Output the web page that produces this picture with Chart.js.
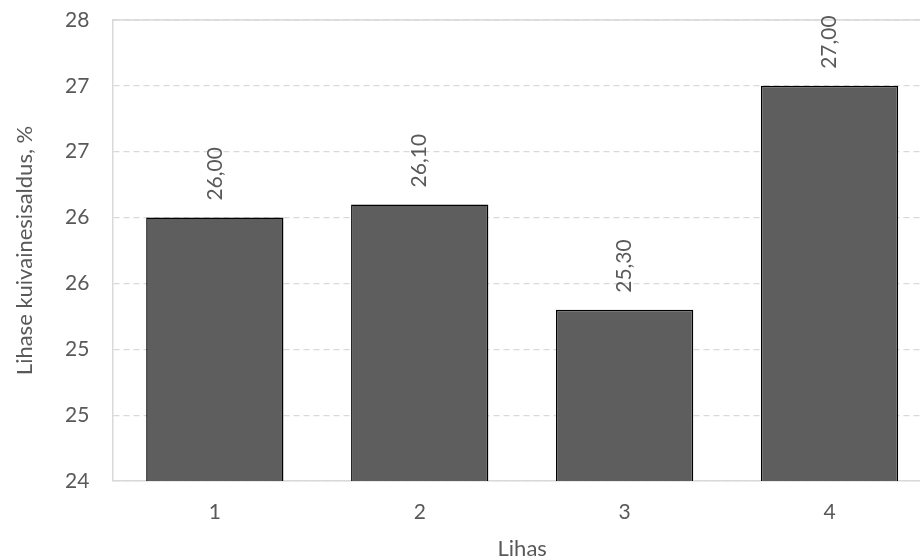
<!DOCTYPE html>
<html>
<head>
<meta charset="utf-8">
<script src="https://cdn.jsdelivr.net/npm/chart.js@4/dist/chart.umd.min.js"></script>
<style>
  html, body { margin: 0; padding: 0; background: #fff; overflow: hidden; }
  #wrap { width: 932px; height: 560px; position: relative; }
</style>
</head>
<body>
<div id="wrap"><canvas id="c"></canvas></div>
<script>
// Kuivainesisaldus lihaste kaupa
const categories = ['1', '2', '3', '4'];
const dryMatter = [26.00, 26.10, 25.30, 27.00];
const yMin = 24;
const yMax = 27.5;
const yStep = 0.5;
const xTitle = 'Lihas';
const yTitle = 'Lihase kuivainesisaldus, %';

const FONT = 'Lato, "Open Sans", sans-serif';
const FS = 21;
const TEXT = '#595959';
const GRID = '#d9d9d9';

// Value labels written vertically above each bar, with a decimal comma
const valueLabels = {
  id: 'valueLabels',
  afterDatasetsDraw(chart) {
    const ctx = chart.ctx;
    const meta = chart.getDatasetMeta(0);
    const values = chart.data.datasets[0].data;
    ctx.save();
    ctx.fillStyle = TEXT;
    ctx.font = FS + 'px ' + FONT;
    ctx.textAlign = 'left';
    ctx.textBaseline = 'middle';
    meta.data.forEach((bar, i) => {
      const txt = values[i].toFixed(2).replace('.', ',');
      ctx.save();
      ctx.translate(bar.x, bar.y - 17);
      ctx.rotate(-Math.PI / 2);
      ctx.fillText(txt, 0, 0);
      ctx.restore();
    });
    ctx.restore();
  }
};

// The top grid line is drawn solid
const topLine = {
  id: 'topLine',
  beforeDatasetsDraw(chart) {
    const { ctx, chartArea } = chart;
    ctx.save();
    ctx.strokeStyle = GRID;
    ctx.lineWidth = 1.5;
    ctx.beginPath();
    ctx.moveTo(chartArea.left, chartArea.top);
    ctx.lineTo(chartArea.right, chartArea.top);
    ctx.stroke();
    ctx.restore();
  }
};

new Chart(document.getElementById('c'), {
  type: 'bar',
  data: {
    labels: categories,
    datasets: [{
      data: dryMatter,
      backgroundColor: '#5e5e5e',
      borderColor: '#000000',
      borderWidth: 1.5,
      barPercentage: 0.67,
      categoryPercentage: 1.0
    }]
  },
  options: {
    responsive: true,
    maintainAspectRatio: false,
    animation: false,
    layout: { padding: { top: 20, left: 14, right: 0, bottom: 0 } },
    plugins: {
      legend: { display: false },
      tooltip: { enabled: false }
    },
    scales: {
      x: {
        grid: { display: false },
        border: { display: true, color: GRID, width: 1.5 },
        ticks: { color: TEXT, font: { family: FONT, size: FS, lineHeight: 1 }, padding: 13 },
        title: {
          display: true, text: xTitle, color: TEXT,
          font: { family: FONT, size: 22, lineHeight: 1 }, padding: { top: 2, bottom: 0 }
        }
      },
      y: {
        min: yMin,
        max: yMax,
        afterFit(scale) { scale.paddingTop = 0; },
        grid: { color: GRID, lineWidth: 1.2, drawTicks: false },
        border: { display: true, color: GRID, width: 1.5, dash: [6, 4] },
        ticks: {
          stepSize: yStep,
          color: TEXT,
          font: { family: FONT, size: FS, lineHeight: 1 },
          padding: 23,
          callback: (v) => String(Math.round(v))
        },
        title: {
          display: true, text: yTitle, color: TEXT,
          font: { family: FONT, size: 22, lineHeight: 1 }, padding: { top: 0, bottom: 6 }
        }
      }
    }
  },
  plugins: [topLine, valueLabels]
});
</script>
</body>
</html>
